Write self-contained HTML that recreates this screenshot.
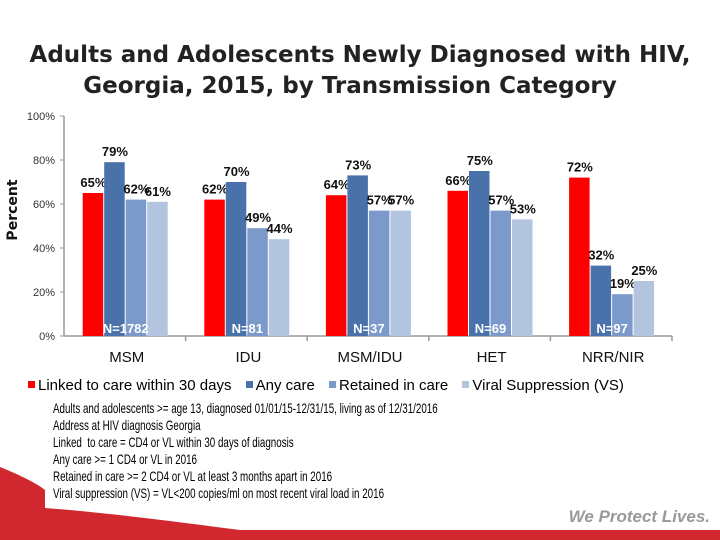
<!DOCTYPE html>
<html><head><meta charset="utf-8"><style>
body{margin:0;width:720px;height:540px;overflow:hidden;background:#fff;position:relative;font-family:"Liberation Sans",sans-serif}
.t{position:absolute;white-space:nowrap}
.le{margin-right:10px}
</style></head><body>
<svg width="720" height="540" style="position:absolute;left:0;top:0">
<path d="M0 467 C20 475 38 484 45 490 L45 508 C100 512 180 522 240 530 L720 530 L720 540 L0 540 Z" fill="#d0282e"/>
<text x="360" y="62" text-anchor="middle" font-family="DejaVu Sans" font-weight="bold" font-size="23" fill="#222">Adults and Adolescents Newly Diagnosed with HIV,</text>
<text x="350" y="93" text-anchor="middle" font-family="DejaVu Sans" font-weight="bold" font-size="23" fill="#222">Georgia, 2015, by Transmission Category</text>
<text transform="translate(17,210) rotate(-90)" text-anchor="middle" font-family="DejaVu Sans" font-weight="bold" font-size="14" fill="#111">Percent</text>
<g id="g"></g>
<text x="710" y="522" text-anchor="end" font-style="italic" font-weight="bold" font-size="17" fill="#999">We Protect Lives.</text>
</svg>
<div class="t" style="left:28px;top:377px;font-size:15px"><span class="le"><span style="display:inline-block;width:7px;height:7px;background:#f00;margin-right:3px;vertical-align:2px"></span>Linked to care within 30 days</span> <span class="le"><span style="display:inline-block;width:7px;height:7px;background:#4a72aa;margin-right:3px;vertical-align:2px"></span>Any care</span> <span class="le"><span style="display:inline-block;width:7px;height:7px;background:#7b9acb;margin-right:3px;vertical-align:2px"></span>Retained in care</span> <span><span style="display:inline-block;width:7px;height:7px;background:#b3c4df;margin-right:3px;vertical-align:2px"></span>Viral Suppression (VS)</span></div>
<div class="t" style="left:53px;top:400px;font-size:14px;line-height:17px;transform:scaleX(0.7);transform-origin:0 0">
Adults and adolescents &gt;= age 13, diagnosed 01/01/15-12/31/15, living as of 12/31/2016<br>
Address at HIV diagnosis Georgia<br>
Linked &nbsp;to care = CD4 or VL within 30 days of diagnosis<br>
Any care &gt;= 1 CD4 or VL in 2016<br>
Retained in care &gt;= 2 CD4 or VL at least 3 months apart in 2016<br>
Viral suppression (VS) = VL&lt;200 copies/ml on most recent viral load in 2016
</div>
<script>
const categories=["MSM","IDU","MSM/IDU","HET","NRR/NIR"];
const nLabels=["N=1782","N=81","N=37","N=69","N=97"];
const linked=[65,62,64,66,72];
const anyCare=[79,70,73,75,32];
const retained=[62,49,57,57,19];
const suppressed=[61,44,57,53,25];
const yTicks=[0,20,40,60,80,100];
const series=[linked,anyCare,retained,suppressed];
const colors=["#ff0000","#4a72aa","#7b9acb","#b3c4df"];
const NS="http://www.w3.org/2000/svg";
const g=document.getElementById('g');
const x0=64,gw=121.6,y0=336,ppu=2.2,bw=21.5,off=18.7;
const y=v=>y0-v*ppu;
function mk(t,a){const e=document.createElementNS(NS,t);for(const k in a)e.setAttribute(k,a[k]);g.appendChild(e);return e;}
let ax=mk('line',{x1:x0,y1:y(100),x2:x0,y2:y0,stroke:'#999','stroke-width':1.5});


let xa=mk('line',{x1:x0,y1:y0,x2:x0+gw*5,y2:y0,stroke:'#999','stroke-width':1.5});


yTicks.forEach(v=>{
 mk('line',{x1:x0-4,y1:y(v),x2:x0,y2:y(v),stroke:'#999'});
 const t=mk('text',{x:x0-9,y:y(v)+4,'text-anchor':'end','font-size':11,fill:'#333'});t.textContent=v+'%';
 
 
});
categories.forEach((c,i)=>{
 const gx=x0+gw*i;
 mk('line',{x1:gx+gw,y1:y0,x2:gx+gw,y2:y0+5,stroke:'#999','stroke-width':1.5});
 series.forEach((s,j)=>{
  const bx=gx+off+j*bw;
  const r=mk('rect',{x:bx,y:y(s[i]),width:bw-1,height:s[i]*ppu,fill:colors[j]});
  
  
  const t=mk('text',{x:bx+bw/2,y:y(s[i])-6,'text-anchor':'middle','font-size':13,'font-weight':'bold',fill:'#111'});
  t.textContent=s[i]+'%';
  
  
 });
 const n=mk('text',{x:gx+off+bw*2,y:y0-3,'text-anchor':'middle','font-size':13,'font-weight':'bold',fill:'#fff'});
 n.textContent=nLabels[i];
 
 
 const cl=mk('text',{x:gx+gw/2+2,y:362,'text-anchor':'middle','font-size':15,fill:'#111'});
 cl.textContent=c;
 
 
});
</script>
</body></html>
